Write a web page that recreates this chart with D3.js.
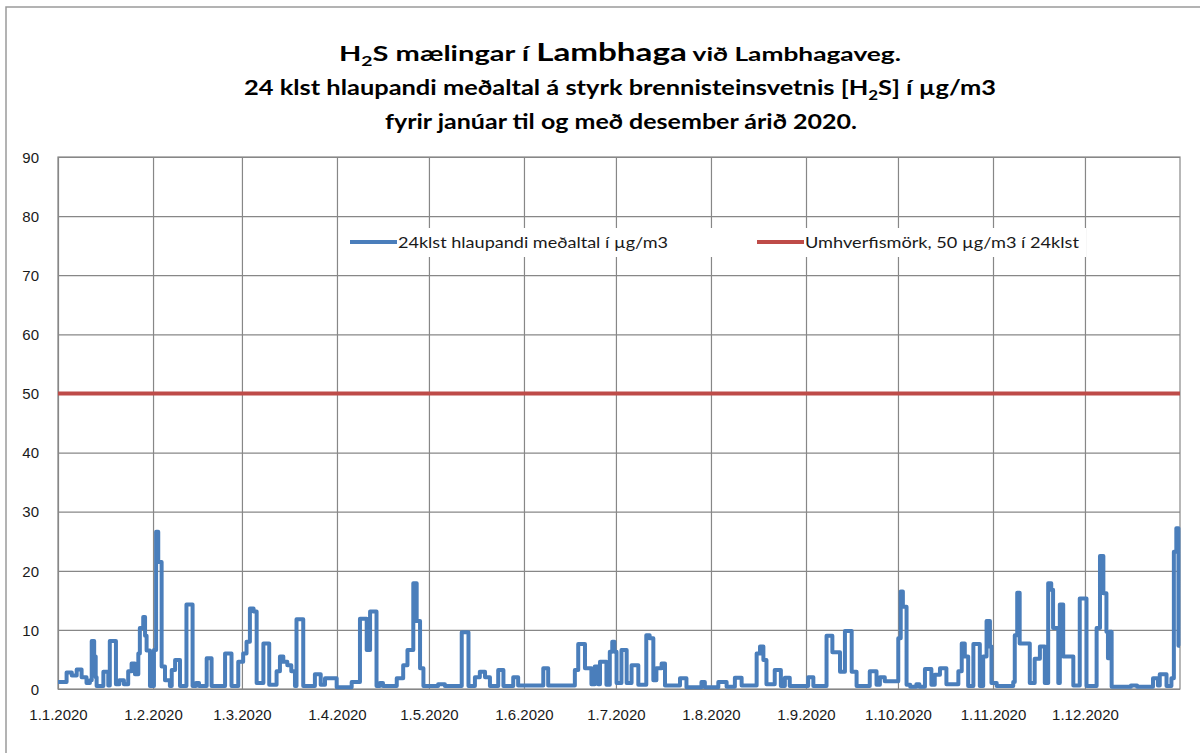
<!DOCTYPE html>
<html>
<head>
<meta charset="utf-8">
<script src="https://cdn.jsdelivr.net/npm/d3@7"></script>
<style>
  body { margin: 0; background: #fff; }
  svg { display: block; }
</style>
</head>
<body>
<svg id="chart" width="1200" height="753"></svg>
<script>
// Day of year (0 = 1.1.2020) where each step of the 24h running mean starts
const dayOfYear = [
  0, 2.8, 4.5, 6.1, 7.7, 9.3, 10.4, 11.0, 11.8, 12.3, 12.6, 14.8, 16.4, 16.9, 18.9, 20.0, 21.5,
  22.9, 24.0, 25.1, 26.2, 26.7, 27.8, 28.4, 28.9, 30.0, 31.3, 32.0, 32.7, 33.8, 34.9, 36.5,
  37.1, 38.2, 39.8, 41.9, 43.9, 45.0, 46.0, 48.5, 50.1, 54.5, 56.6, 58.8, 60.4, 61.5, 62.6,
  63.8, 64.8, 67.0, 68.9, 71.3, 72.4, 73.5, 74.8, 76.1, 77.3, 77.8, 80.0, 83.8, 85.7, 87.1,
  90.9, 95.8, 98.5, 100.7, 101.8, 103.9, 105.0, 106.0, 110.5, 112.6, 114.0, 115.9, 117.0,
  118.1, 119.2, 124.0, 126.2, 131.7, 133.9, 136.0, 137.6, 139.3, 140.9, 143.6, 145.3, 148.5,
  150.1, 158.3, 159.9, 168.6, 169.7, 171.9, 174.0, 175.1, 176.2, 176.8, 178.9, 180.0, 180.8,
  181.5, 182.2, 183.8, 185.5, 187.1, 189.3, 191.9, 193.0, 194.2, 195.2, 196.9, 198.0, 202.9,
  205.0, 209.9, 211.0, 215.4, 218.1, 220.8, 223.0, 227.9, 229.0, 230.1, 231.1, 233.8, 235.8,
  237.1, 238.7, 244.7, 246.4, 250.7, 252.6, 255.1, 256.7, 258.9, 260.5, 264.8, 267.0, 268.1,
  269.7, 274.1, 274.9, 275.6, 276.8, 278.0, 280.0, 281.0, 282.8, 284.9, 286.0, 287.7, 289.8,
  293.7, 294.8, 295.8, 296.9, 298.6, 300.7, 301.8, 302.9, 304.0, 304.5, 306.2, 311.6, 312.1,
  312.9, 313.7, 317.0, 318.6, 320.3, 321.9, 323.0, 324.0, 324.6, 326.3, 326.8, 327.9, 331.2,
  333.3, 335.5, 338.8, 339.9, 341.0, 342.0, 342.5, 343.0, 343.7, 350.0, 352.0, 357.2, 358.8,
  359.4, 361.6, 363.2, 364.0, 364.8, 365.5, 366.0
];
const h2s = [
  1.2, 2.8, 2.3, 3.3, 2.0, 1.0, 1.5, 8.1, 5.5, 2.0, 0.5, 2.9, 0.6, 8.1, 0.8, 1.5, 0.8,
  3.0, 4.3, 2.5, 6.0, 10.3, 12.2, 9.0, 6.5, 0.5, 6.6, 26.6, 21.5, 3.8, 1.5, 0.5,
  3.2, 4.9, 0.5, 14.3, 0.5, 1.0, 0.5, 5.2, 0.5, 6.0, 0.5, 4.6, 6.0, 8.0, 13.6,
  13.1, 1.0, 7.7, 0.7, 3.0, 5.5, 4.6, 4.0, 3.0, 0.5, 11.8, 0.5, 2.5, 0.7, 1.8,
  0.3, 1.2, 11.9, 6.6, 13.1, 0.5, 1.0, 0.5, 1.8, 4.0, 6.6, 17.9, 11.5,
  3.5, 0.5, 0.8, 0.5, 9.6, 0.5, 2.0, 2.9, 2.0, 0.5, 3.2, 0.5, 2.0,
  0.6, 3.5, 0.6, 3.2, 7.6, 3.5, 0.8, 3.8, 0.8, 4.6, 0.7, 6.3, 8.0,
  6.3, 1.0, 6.6, 1.0, 4.0, 0.7, 9.1, 8.6, 1.5, 3.5, 4.3, 0.6, 1.8,
  0.3, 1.2, 0.3, 1.2, 0.4, 1.9, 0.6, 6.0, 7.2, 4.9, 0.8, 3.2, 0.5,
  1.9, 0.5, 2.0, 0.5, 9.0, 6.2, 2.9, 9.8, 2.9, 0.5, 3.0, 0.7, 2.0,
  1.3, 8.6, 16.5, 13.9, 0.7, 0.4, 0.8, 0.4, 3.4, 0.7, 2.4, 3.5, 0.8,
  3.0, 7.7, 5.5, 0.5, 7.6, 0.5, 5.5, 11.5, 7.2, 1.0, 0.5, 1.2, 9.1,
  16.3, 7.7, 1.0, 5.1, 7.2, 1.0, 17.9, 16.8, 10.3, 1.0, 14.3, 5.5, 0.6,
  15.3, 0.5, 10.3, 22.5, 16.2, 9.7, 5.2, 9.7, 0.4, 0.6, 0.4, 1.8, 0.6,
  2.5, 0.5, 1.8, 23.2, 27.2, 7.3, 7.3
];
const limitValue = 50; // umhverfismörk

const yTicks = [0, 10, 20, 30, 40, 50, 60, 70, 80, 90];
const monthTicks = ["2020-01-01", "2020-02-01", "2020-03-01", "2020-04-01", "2020-05-01", "2020-06-01",
  "2020-07-01", "2020-08-01", "2020-09-01", "2020-10-01", "2020-11-01", "2020-12-01"];
const legendLabels = ["24klst hlaupandi meðaltal í µg/m3", "Umhverfismörk, 50 µg/m3 í 24klst"];

const color = { series: "#4a7ebb", limit: "#be4b48", grid: "#878787", text: "#1a1a1a" };
const margin = { top: 157, right: 20, bottom: 64, left: 58 };
const W = 1200, H = 753;
const width = W - margin.left - margin.right;
const height = H - margin.top - margin.bottom;

const svg = d3.select("#chart");
const start = new Date(Date.UTC(2020, 0, 1));
const end = new Date(Date.UTC(2021, 0, 1));
const toDate = (d) => new Date(start.getTime() + d * 864e5);

const series = dayOfYear.map((d, i) => ({ date: toDate(d), value: h2s[i] }));
const limit = [{ date: start, value: limitValue }, { date: end, value: limitValue }];

// outer chart border (only top & left are in view)
svg.append("path")
  .attr("d", `M6,${H} V7 H${W}`)
  .attr("fill", "none")
  .attr("stroke", "#9a9a9a")
  .attr("stroke-width", 1.5);

const g = svg.append("g")
  .attr("transform", `translate(${margin.left},${margin.top})`)
  .style("font-family", "'DejaVu Sans', Verdana, sans-serif");

const x = d3.scaleUtc().domain([start, end]).range([0, width]);
const y = d3.scaleLinear().domain([0, 90]).range([height, 0]);

// horizontal gridlines + y labels
g.append("g")
  .attr("class", "yAxis")
  .call(d3.axisLeft(y).tickValues(yTicks).tickSize(-width).tickPadding(19))
  .call((a) => a.select(".domain").remove())
  .call((a) => a.selectAll("line").attr("stroke", color.grid).attr("stroke-width", 1.2))
  .call((a) => a.selectAll("text").style("font-size", "15px").attr("fill", color.text).attr("dy", "0.35em"));

// vertical gridlines + month labels
g.append("g")
  .attr("class", "xAxis")
  .attr("transform", `translate(0,${height})`)
  .call(d3.axisBottom(x)
    .tickValues(monthTicks.map((s) => new Date(s + "T00:00:00Z")))
    .tickSize(-height)
    .tickPadding(20)
    .tickFormat(d3.utcFormat("%-d.%-m.%Y")))
  .call((a) => a.select(".domain").remove())
  .call((a) => a.selectAll("line").attr("stroke", color.grid).attr("stroke-width", 1.2))
  .call((a) => a.selectAll("text").style("font-size", "15px").attr("fill", color.text));

// plot frame
g.append("rect")
  .attr("width", width)
  .attr("height", height)
  .attr("fill", "none")
  .attr("stroke", color.grid)
  .attr("stroke-width", 1.2);

// limit line
g.append("path")
  .datum(limit)
  .attr("fill", "none")
  .attr("stroke", color.limit)
  .attr("stroke-width", 4)
  .attr("d", d3.line().x((d) => x(d.date)).y((d) => y(d.value)));

// H2S running mean
g.append("path")
  .datum(series)
  .attr("fill", "none")
  .attr("stroke", color.series)
  .attr("stroke-width", 4)
  .attr("stroke-linejoin", "round")
  .attr("d", d3.line().curve(d3.curveStepAfter).x((d) => x(d.date)).y((d) => y(d.value)));

// legend (white box hides gridlines)
const legend = svg.append("g").style("font-family", "Lato, 'Open Sans', sans-serif");
legend.append("rect")
  .attr("x", 340).attr("y", 228).attr("width", 746).attr("height", 29)
  .attr("fill", "#fff");
const legendItems = [
  { x: 350, label: legendLabels[0], stroke: color.series, w: 270 },
  { x: 757, label: legendLabels[1], stroke: color.limit, w: 274 }
];
legendItems.forEach((it) => {
  legend.append("line")
    .attr("x1", it.x).attr("x2", it.x + 47)
    .attr("y1", 242).attr("y2", 242)
    .attr("stroke", it.stroke).attr("stroke-width", 4);
  legend.append("text")
    .attr("x", it.x + 48).attr("y", 247.5)
    .attr("fill", color.text)
    .style("font-size", "15px")
    .attr("textLength", it.w)
    .attr("lengthAdjust", "spacingAndGlyphs")
    .text(it.label);
});

// title, three lines
const title = svg.append("g")
  .attr("fill", "#000")
  .style("font-family", "Lato, 'Open Sans', sans-serif")
  .style("font-weight", "bold");

const t1 = title.append("text").attr("x", 620).attr("y", 61).attr("text-anchor", "middle")
  .attr("textLength", 562).attr("lengthAdjust", "spacingAndGlyphs");
t1.append("tspan").style("font-size", "21px").text("H");
t1.append("tspan").style("font-size", "14px").attr("dy", 5).text("2");
t1.append("tspan").style("font-size", "21px").attr("dy", -5).text("S mælingar í ");
t1.append("tspan").style("font-size", "24px").text("Lambhaga");
t1.append("tspan").style("font-size", "19px").text(" við Lambhagaveg.");

const t2 = title.append("text").attr("x", 620).attr("y", 95).attr("text-anchor", "middle")
  .attr("textLength", 752).attr("lengthAdjust", "spacingAndGlyphs")
  .style("font-size", "21px");
t2.append("tspan").text("24 klst hlaupandi meðaltal á styrk brennisteinsvetnis [H");
t2.append("tspan").style("font-size", "14px").attr("dy", 5).text("2");
t2.append("tspan").attr("dy", -5).text("S] í µg/m3");

title.append("text").attr("x", 621).attr("y", 129).attr("text-anchor", "middle")
  .attr("textLength", 472).attr("lengthAdjust", "spacingAndGlyphs")
  .style("font-size", "21px")
  .text("fyrir janúar til og með desember árið 2020.");
</script>
</body>
</html>
